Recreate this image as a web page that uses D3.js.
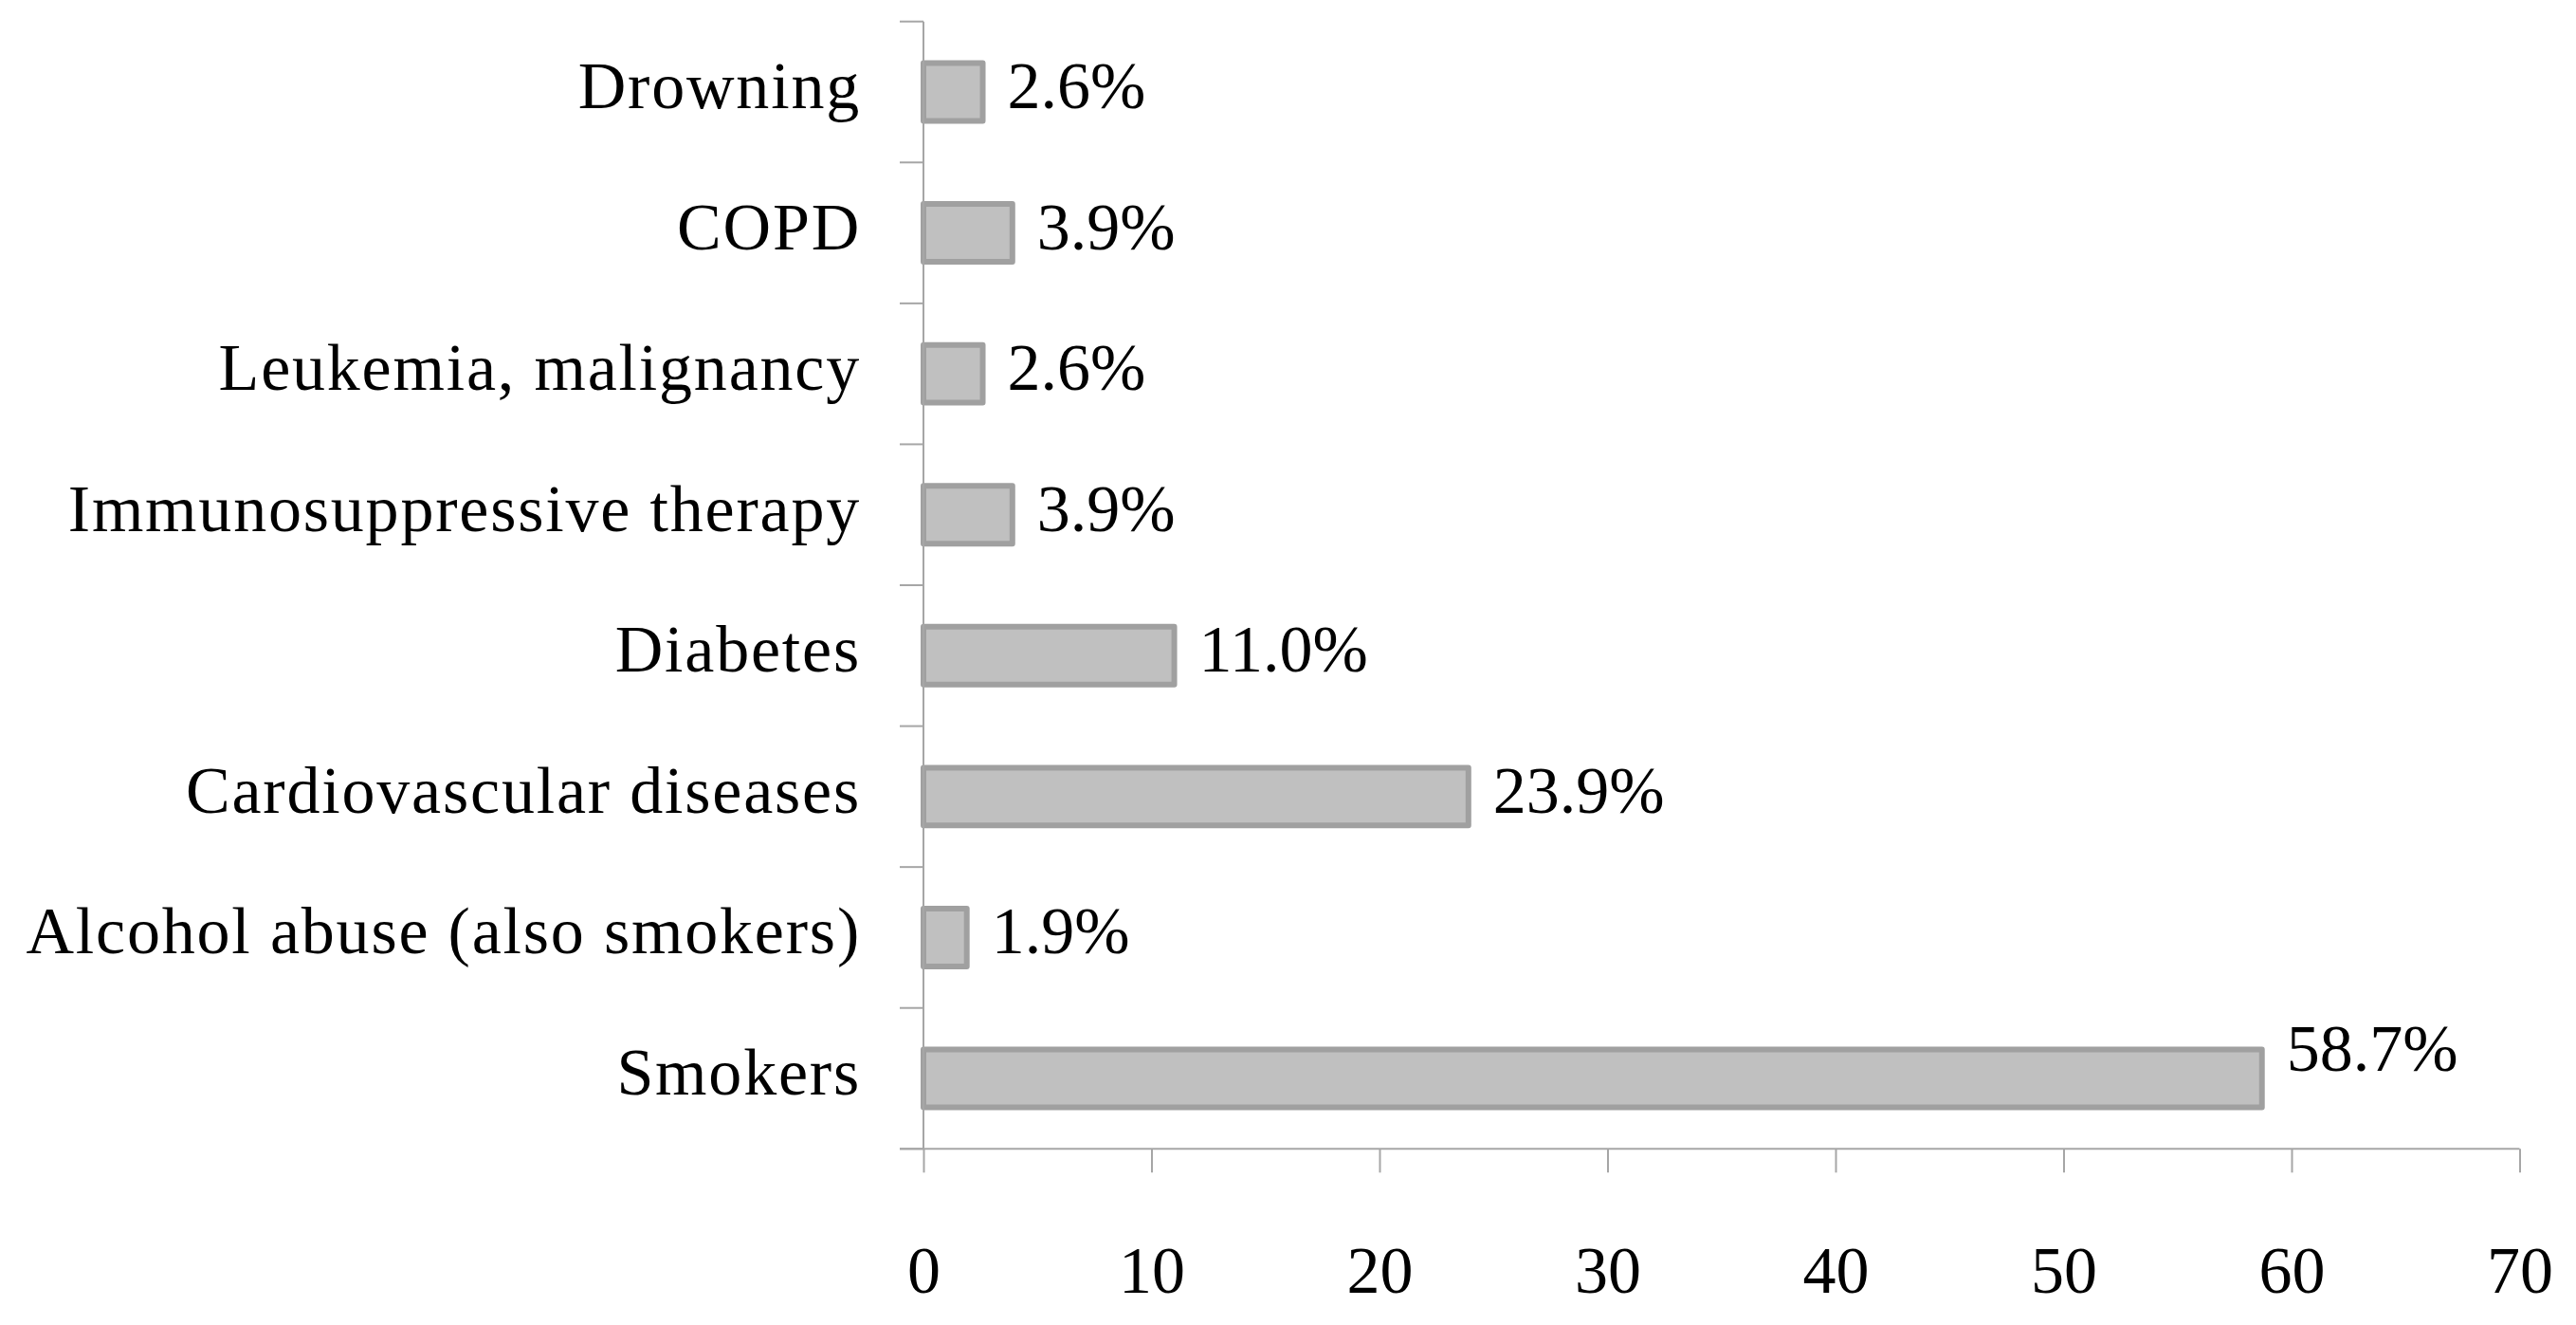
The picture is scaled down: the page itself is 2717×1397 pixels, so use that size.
<!DOCTYPE html>
<html>
<head>
<meta charset="utf-8">
<script src="https://cdn.jsdelivr.net/npm/d3@7"></script>
<style>
  html, body { margin: 0; padding: 0; background: #fff; }
  svg { display: block; }
  text { font-family: "Liberation Serif", "Times New Roman", serif; fill: #000; }
</style>
</head>
<body>
<svg id="chart" width="2717" height="1397"></svg>
<script>
// Data (Excel order: bottom to top)
const categories = [
  "Smokers",
  "Alcohol abuse (also smokers)",
  "Cardiovascular diseases",
  "Diabetes",
  "Immunosuppressive therapy",
  "Leukemia, malignancy",
  "COPD",
  "Drowning"
];
const values = [58.7, 1.9, 23.9, 11.0, 3.9, 2.6, 3.9, 2.6];
const valueLabels = ["58.7%", "1.9%", "23.9%", "11.0%", "3.9%", "2.6%", "3.9%", "2.6%"];
const xTicks = [0, 10, 20, 30, 40, 50, 60, 70];

(function () {
const data = categories.map((c, i) => ({ cat: c, value: values[i], label: valueLabels[i] }));

const svg = d3.select("#chart");
const mLeft = 974, mRight = 2657.5, mTop = 22.7, mBottom = 1211.3;
const tickLen = 25;
const axisColor = "#a6a6a6";

const x = d3.scaleLinear().domain([0, 70]).range([mLeft, mRight]);
const y = d3.scaleBand()
  .domain(categories.slice().reverse())
  .range([mTop, mBottom])
  .paddingInner(0.59)
  .paddingOuter(0.295);

// Y axis ticks at category boundaries
const boundaries = d3.range(categories.length + 1).map(k => mTop + k * y.step());
svg.append("g").selectAll("line").data(boundaries).join("line")
  .attr("x1", x(0) - tickLen).attr("x2", x(0))
  .attr("y1", d => d).attr("y2", d => d)
  .attr("stroke", axisColor).attr("stroke-width", 2);

// X axis via d3.axisBottom
const xAxis = d3.axisBottom(x)
  .tickValues(xTicks)
  .tickSize(tickLen)
  .tickSizeOuter(0)
  .tickPadding(0)
  .tickFormat(d3.format("d"));
const xAxisG = svg.append("g")
  .attr("transform", `translate(0,${mBottom})`)
  .call(xAxis);
xAxisG.select(".domain")
  .attr("d", `M${x(0) - tickLen},0H${mRight}`)
  .attr("stroke", axisColor).attr("stroke-width", 2);
xAxisG.selectAll(".tick line").attr("stroke", axisColor).attr("stroke-width", 2);
xAxisG.selectAll(".tick text")
  .attr("y", 152)
  .attr("dy", null)
  .style("font-family", '"Liberation Serif", "Times New Roman", serif')
  .style("font-size", "70px")
  .attr("fill", "#000");

// Bars
svg.append("g").selectAll("rect").data(data).join("rect")
  .attr("x", x(0))
  .attr("y", d => y(d.cat))
  .attr("width", d => x(d.value) - x(0))
  .attr("height", y.bandwidth())
  .attr("fill", "#c0c0c0")
  .attr("stroke", "#a0a0a0")
  .attr("stroke-width", 6)
  .attr("stroke-linejoin", "round");

// Y axis line over bar left stroke
svg.append("line")
  .attr("x1", x(0)).attr("x2", x(0))
  .attr("y1", mTop).attr("y2", mBottom)
  .attr("stroke", axisColor).attr("stroke-width", 2);

// Value labels
svg.append("g").selectAll("text").data(data).join("text")
  .attr("x", d => x(d.value) + 26)
  .attr("y", d => y(d.cat) + y.bandwidth() / 2 + (d.value > 50 ? -8 : 17))
  .style("font-size", "70px")
  .text(d => d.label);

// Category labels
svg.append("g").selectAll("text").data(data).join("text")
  .attr("x", 908)
  .attr("y", d => y(d.cat) + y.bandwidth() / 2 + 17)
  .attr("text-anchor", "end")
  .style("font-size", "70px")
  .style("letter-spacing", "1.8px")
  .text(d => d.cat);
})();
</script>
</body>
</html>
